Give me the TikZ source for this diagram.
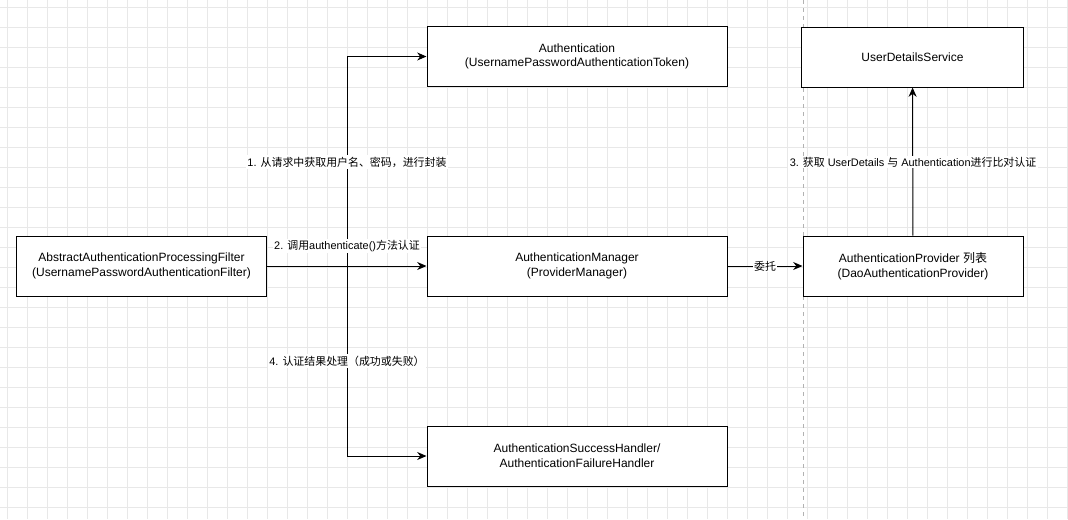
\documentclass[tikz,border=0pt]{standalone}
\usepackage{fontspec}
\setmainfont{Liberation Sans}
\newfontfamily\cjk{Noto Sans CJK SC}
\usetikzlibrary{arrows.meta}
\tikzset{every picture/.style={line width=0.75pt}}
\tikzset{
  box/.style={draw, fill=white, minimum width=#1, minimum height=45pt, align=center, inner sep=2pt, font=\fontsize{9}{11}\selectfont},
  box/.default=225pt,
  lbl/.style={fill=white, inner sep=1pt, font=\fontsize{8.2}{10}\selectfont},
  arr/.style={-{Stealth[length=7pt,width=6pt]}}
}

\begin{document}
\begin{tikzpicture}[x=0.75pt,y=0.75pt,yscale=-1,xscale=1]
\useasboundingbox (0,0) rectangle (1068,519);
% grid background
\fill[white] (0,0) rectangle (1068,519);
\draw[line width=0.4pt, black!9, step=15pt, shift={(7,7)}] (-7,-7) grid (1061,512);
% dashed separator
\draw[black!30, dashed, line width=0.5pt] (803,0) -- (803,519);

% boxes
\node[box=188pt] (filter) at (141.5,266) {AbstractAuthenticationProcessingFilter\\(UsernamePasswordAuthenticationFilter)};
\node[box] (auth) at (577,56.5) {Authentication\\(UsernamePasswordAuthenticationToken)};
\node[box] (manager) at (577,266) {AuthenticationManager\\(ProviderManager)};
\node[box] (handler) at (577,456) {AuthenticationSuccessHandler/\\AuthenticationFailureHandler};
\node[box=167pt] (uds) at (912.5,57) {UserDetailsService};
\node[box=165pt] (provider) at (913,266) {AuthenticationProvider {\cjk 列表}\\(DaoAuthenticationProvider)};

% connectors
\coordinate (trunk) at (347,266);
\draw[arr] (filter) -- (manager);
\draw[arr] (trunk) |- (auth);
\draw[arr] (trunk) |- (handler);
\draw[arr] (manager) -- node[lbl] {\cjk 委托} (provider);
\draw[arr] (provider) -- (uds);

% labels
\node[lbl] (l1) at (347,162) {1. {\cjk 从请求中获取用户名、密码，进行封装}};
\node[lbl] (l2) at (347,246) {2. {\cjk 调用}authenticate(){\cjk 方法认证}};
\node[lbl] (l3) at (913,162) {3. {\cjk 获取} UserDetails {\cjk 与} Authentication{\cjk 进行比对认证}};
\node[lbl] (l4) at (347,361) {4. {\cjk 认证结果处理（成功或失败）}};
\end{tikzpicture}
\end{document}
